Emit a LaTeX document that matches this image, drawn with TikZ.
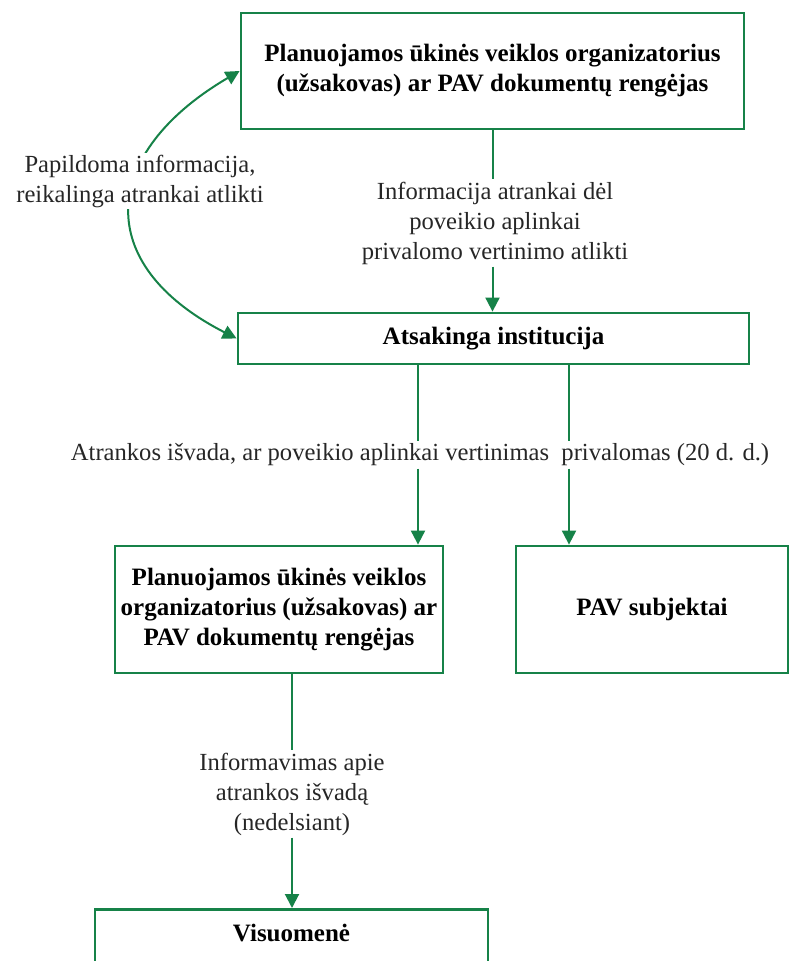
\documentclass[tikz,border=0pt]{standalone}
\usepackage{fontspec}
\setmainfont{Liberation Serif}
\usetikzlibrary{arrows.meta}
\definecolor{flowgreen}{RGB}{22,130,72}

\begin{document}
\begin{tikzpicture}[x=0.5pt, y=-0.5pt,
  font=\fontsize{12.3}{15}\selectfont,
  box/.style={draw=flowgreen, line width=1.4pt, align=center,
    font=\fontsize{12.5}{15}\selectfont\bfseries, inner sep=0pt},
  lbl/.style={align=center, text=black!85, inner xsep=2pt, inner ysep=1pt},
  link/.style={draw=flowgreen, line width=1pt},
  arr/.style={link, -{Triangle[length=7pt, width=7pt]}},
  biarr/.style={link, {Triangle[length=7pt, width=7pt]}-{Triangle[length=7pt, width=7pt]}}]
  \useasboundingbox (0,0) rectangle (790,961);
  \clip (0,0) rectangle (790,961);

  % boxes
  \node[box, minimum width=251.5pt, minimum height=58pt] (org1) at (492.5,71)
    {Planuojamos ūkinės veiklos organizatorius\\(užsakovas) ar PAV dokumentų rengėjas};
  \node[box, minimum width=255.5pt, minimum height=25.5pt] (atsak) at (493.5,338.5)
    {Atsakinga institucija};
  \node[box, minimum width=164pt, minimum height=63.5pt] (org2) at (279,609.5)
    {Planuojamos ūkinės veiklos\\organizatorius (užsakovas) ar\\PAV dokumentų rengėjas};
  \node[box, minimum width=136pt, minimum height=63.5pt] (subj) at (652,609.5)
    {PAV subjektai};
  \node[box, anchor=north, minimum width=196.5pt, text height=9pt, text depth=50pt,
    inner ysep=7pt] (visuom) at (291.5,908) {Visuomenė};

  % labels
  \node[lbl] (infolbl) at (495,223)
    {Informacija atrankai dėl\\poveikio aplinkai\\privalomo vertinimo atlikti};
  \node[lbl] (isvada) at (420,455)
    {Atrankos išvada, ar poveikio aplinkai vertinimas\ \ privalomas (20 d. d.)};
  \node[lbl] (informlbl) at (292,794)
    {Informavimas apie\\atrankos išvadą\\(nedelsiant)};
  \coordinate (xa) at (418,0);
  \coordinate (xb) at (569,0);

  % connectors
  \draw[link] (org1.south) -- (org1.south |- infolbl.north);
  \draw[arr] (org1.south |- infolbl.south) -- (org1.south |- atsak.north);
  \draw[link] (atsak.south -| xa) -- (isvada.north -| xa);
  \draw[arr] (isvada.south -| xa) -- (org2.north -| xa);
  \draw[link] (atsak.south -| xb) -- (isvada.north -| xb);
  \draw[arr] (isvada.south -| xb) -- (subj.north -| xb);
  \draw[link] (org2.south -| informlbl) -- (informlbl.north);
  \draw[arr] (informlbl.south) -- (informlbl.south |- visuom.north);

  % feedback arc
  \draw[biarr] (org1.west) .. controls (100,153) and (91,264) .. (atsak.west);
  \node[lbl, fill=white] (papild) at (140,181)
    {Papildoma informacija,\\reikalinga atrankai atlikti};
\end{tikzpicture}
\end{document}
